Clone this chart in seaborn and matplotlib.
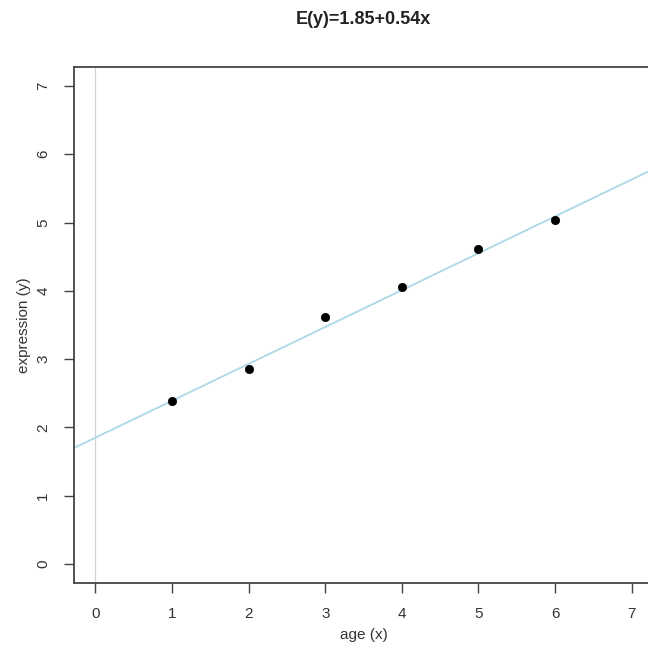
import matplotlib
matplotlib.use("Agg")
import matplotlib.pyplot as plt
import seaborn as sns
import pandas as pd

sns.set_style("white")
plt.rcParams['font.family'] = ['Liberation Sans', 'DejaVu Sans']

# Data
age = [1, 2, 3, 4, 5, 6]
expression = [2.39, 2.85, 3.61, 4.06, 4.61, 5.04]
intercept = 1.85
slope = 0.54
ticks = [0, 1, 2, 3, 4, 5, 6, 7]

df = pd.DataFrame({'age': age, 'expression': expression})

fig = plt.figure(figsize=(6.48, 6.48), dpi=100)
ax = fig.add_axes([0.114, 0.100, 0.894, 0.797])

# vertical reference line at x = 0
ax.axvline(0, color='#d3d3d3', linewidth=0.9, zorder=1)

# fitted line
ax.axline((0, intercept), slope=slope, color='#add8e6', linewidth=1.3, zorder=2)

sns.scatterplot(data=df, x='age', y='expression', ax=ax, color='black',
                s=36, edgecolor='black', linewidth=0.5, zorder=3)

ax.set_xlim(-0.28, 7.28)
ax.set_ylim(-0.28, 7.28)
ax.set_xticks(ticks)
ax.set_yticks(ticks)
ax.set_yticklabels([str(t) for t in ticks], rotation=90, va='center')

ax.tick_params(axis='both', which='major', bottom=True, left=True,
               direction='out', length=7, width=1.0,
               colors='#444444', labelsize=11, pad=10, labelcolor='#333333')

for side in ['left', 'bottom', 'top', 'right']:
    ax.spines[side].set_color('#444444')
    ax.spines[side].set_linewidth(1.3)

ax.set_xlabel('age (x)', fontsize=11, color='#333333', labelpad=5)
ax.set_ylabel('expression (y)', fontsize=11, color='#333333', labelpad=4)

fig.text(0.56, 0.970, 'E(y)=1.85+0.54x', ha='center', va='center',
         fontsize=13, fontweight='bold', color='#222222')

plt.savefig('out.png', dpi=100)
plt.close()
